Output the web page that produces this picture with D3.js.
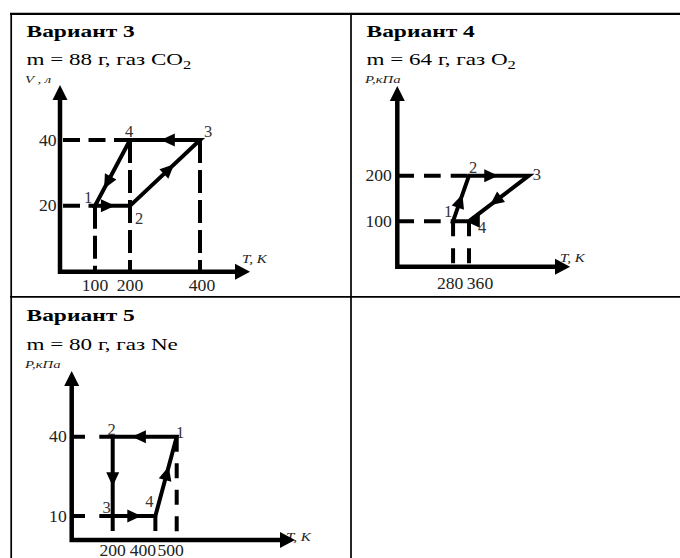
<!DOCTYPE html>
<html>
<head>
<meta charset="utf-8">
<script src="https://cdn.jsdelivr.net/npm/d3@7"></script>
<style>
  html, body { margin: 0; padding: 0; background: #fff; }
  svg { display: block; }
  text { font-family: "Liberation Serif", "Times New Roman", serif; }
</style>
</head>
<body>
<svg id="chart" width="680" height="558"></svg>
<script>
// ---- Variant headings ----
const variantTitles = ["Вариант 3", "Вариант 4", "Вариант 5"];
const massTexts = ["m = 88 г, газ ", "m = 64 г, газ ", "m = 80 г, газ "];
const gasFormulas = [["CO", "2"], ["O", "2"], ["Ne", ""]];
const yAxisNames = ["V , л", "P,кПа", "P,кПа"];
const xAxisName = "T, K";

// ---- Variant 3: V–T cycle of CO2 ----
const v3States = ["1", "2", "3", "4"];
const v3Temps = [100, 200, 400, 200];
const v3Volumes = [20, 20, 40, 40];
const v3TempTicks = [100, 200, 400];
const v3VolumeTicks = [20, 40];
const v3DropStates = [0, 3, 2];   // states with a dashed line down to the T axis
const v3SideStates = [3, 0];      // states with a dashed line across to the V axis

// ---- Variant 4: P–T cycle of O2 ----
const v4States = ["1", "2", "3", "4"];
const v4Temps = [280, 360, 660, 360];
const v4Pressures = [100, 200, 200, 100];
const v4TempTicks = [280, 360];
const v4PressureTicks = [100, 200];
const v4DropStates = [0, 3];
const v4SideStates = [1, 0];

// ---- Variant 5: P–T cycle of Ne ----
const v5States = ["1", "2", "3", "4"];
const v5Temps = [500, 200, 200, 400];
const v5Pressures = [40, 40, 10, 10];
const v5TempTicks = [200, 400, 500];
const v5PressureTicks = [10, 40];
const v5DropStates = [2, 3, 0];
const v5SideStates = [1, 2];

// ---- Drawing setup per panel ----
const panels = [
  {
    title: variantTitles[0], mass: massTexts[0], gas: gasFormulas[0], yName: yAxisNames[0],
    states: v3States, t: v3Temps, v: v3Volumes, tTicks: v3TempTicks, vTicks: v3VolumeTicks,
    drops: v3DropStates, sides: v3SideStates,
    L: {
      textX: 26.5, titleY: 36.5, massY: 65,
      yNamePos: [25, 83], xNamePos: [242, 263],
      origin: [60, 271.7], yTip: 85, xTip: 250,
      xDom: [0, 400], xRng: [60, 200], yDom: [0, 40], yRng: [271.7, 140],
      hDash: "17,8.5", hStart: 3, vDash: "23,7",
      arrowAt: [0.57, 0.63, 0.56, 0.74],
      labelOff: [[-7, -3], [9, 18], [8, -3.5], [-1, -3.5]],
      xTickDx: [0, 0, 2], xTickDy: 19.5, yTickDx: -3.5
    }
  },
  {
    title: variantTitles[1], mass: massTexts[1], gas: gasFormulas[1], yName: yAxisNames[1],
    states: v4States, t: v4Temps, v: v4Pressures, tTicks: v4TempTicks, vTicks: v4PressureTicks,
    drops: v4DropStates, sides: v4SideStates,
    L: {
      textX: 366.5, titleY: 36.5, massY: 65,
      yNamePos: [365, 83], xNamePos: [560, 262],
      origin: [397.3, 266.7], yTip: 86, xTip: 570,
      xDom: [0, 360], xRng: [397.3, 469], yDom: [0, 200], yRng: [266.7, 175.7],
      hDash: "16.7,10", hStart: 0, vDash: "15,12",
      arrowAt: [0.59, 0.49, 0.65, 0.2],
      labelOff: [[-5, -4], [4, -3], [8, 4], [13, 12]],
      xTickDx: [-3, 11], xTickDy: 22.5, yTickDx: -5.5
    }
  },
  {
    title: variantTitles[2], mass: massTexts[2], gas: gasFormulas[2], yName: yAxisNames[2],
    states: v5States, t: v5Temps, v: v5Pressures, tTicks: v5TempTicks, vTicks: v5PressureTicks,
    drops: v5DropStates, sides: v5SideStates,
    L: {
      textX: 26.5, titleY: 321, massY: 349.5,
      yNamePos: [25, 368], xNamePos: [286, 541],
      origin: [71.7, 540], yTip: 371, xTip: 295,
      xDom: [200, 500], xRng: [112.7, 176.7], yDom: [10, 40], yRng: [516, 436.7],
      hDash: "13.3,14.3", hStart: 0, vDash: "15,11.5",
      arrowAt: [0.7, 0.625, 0.67, 0.625],
      labelOff: [[3.5, 1.5], [-1, -2], [-6, -3.5], [-6, -9]],
      xTickDx: [0, -12.5, -6], xTickDy: 15.5, yTickDx: -5
    }
  }
];

const svg = d3.select("#chart");
svg.append("rect").attr("width", 680).attr("height", 558).attr("fill", "#fff");

// ---- Table grid ----
const grid = svg.append("g").attr("stroke", "#000").attr("fill", "none");
grid.append("line").attr("x1", 10).attr("x2", 680).attr("y1", 13.9).attr("y2", 13.9).attr("stroke-width", 2.3);
grid.append("line").attr("x1", 11.2).attr("x2", 11.2).attr("y1", 13).attr("y2", 558).attr("stroke-width", 1.7);
grid.append("line").attr("x1", 10).attr("x2", 680).attr("y1", 296.8).attr("y2", 296.8).attr("stroke-width", 1.7);
grid.append("line").attr("x1", 351).attr("x2", 351).attr("y1", 13).attr("y2", 558).attr("stroke-width", 1.7);

// Text with horizontal stretch
function label(g, x, y, str, opts) {
  const t = g.append("text")
    .attr("transform", `translate(${x},${y}) scale(${opts.sx || 1},1)`)
    .attr("text-anchor", opts.anchor || "start")
    .attr("font-size", opts.size)
    .attr("font-weight", opts.weight || "normal")
    .attr("font-style", opts.style || "normal")
    .attr("fill", opts.fill || "#000")
    .text(str);
  return t;
}

// Filled arrowhead with its tip at (x, y) pointing along (dx, dy)
function arrowHead(g, x, y, dx, dy, len, wid) {
  const n = Math.hypot(dx, dy), ux = dx / n, uy = dy / n;
  const bx = x - ux * len, by = y - uy * len;
  const px = -uy * wid / 2, py = ux * wid / 2;
  g.append("path")
    .attr("d", `M${x},${y}L${bx + px},${by + py}L${bx - px},${by - py}Z`)
    .attr("fill", "#000");
}

panels.forEach(p => {
  const L = p.L;
  const g = svg.append("g");
  const x = d3.scaleLinear().domain(L.xDom).range(L.xRng);
  const y = d3.scaleLinear().domain(L.yDom).range(L.yRng);
  const [ox, oy] = L.origin;

  // Heading
  label(g, L.textX, L.titleY, p.title, { size: 17.5, weight: "bold", sx: 1.34 });
  const m = label(g, L.textX, L.massY, p.mass, { size: 17.5, sx: 1.32 });
  m.append("tspan").text(p.gas[0]);
  if (p.gas[1]) m.append("tspan").attr("dy", 3.5).attr("font-size", 12.5).text(p.gas[1]);

  // Axis names
  label(g, L.yNamePos[0], L.yNamePos[1], p.yName, { size: 10.5, style: "italic", sx: 1.4, fill: "#222" });
  label(g, L.xNamePos[0], L.xNamePos[1], xAxisName, { size: 12, style: "italic", sx: 1.25, fill: "#222" });

  // Dashed guides
  const guides = g.append("g").attr("stroke", "#000").attr("stroke-width", 4).attr("fill", "none");
  p.sides.forEach(i => {
    guides.append("line")
      .attr("x1", ox + L.hStart).attr("x2", x(p.t[i]))
      .attr("y1", y(p.v[i])).attr("y2", y(p.v[i]))
      .attr("stroke-dasharray", L.hDash);
  });
  p.drops.forEach(i => {
    guides.append("line")
      .attr("x1", x(p.t[i])).attr("x2", x(p.t[i]))
      .attr("y1", y(p.v[i])).attr("y2", oy)
      .attr("stroke-dasharray", L.vDash);
  });

  // Axes with arrows
  const axes = g.append("g").attr("stroke", "#000").attr("stroke-width", 4.5).attr("fill", "none");
  axes.append("path")
    .attr("d", `M${ox},${L.yTip + 10}L${ox},${oy}L${L.xTip - 10},${oy}`)
    .attr("stroke-linejoin", "miter");
  arrowHead(g, ox, L.yTip, 0, -1, 15, 15);
  arrowHead(g, L.xTip, oy, 1, 0, 15, 16);

  // Tick labels
  p.tTicks.forEach((t, k) => {
    label(g, x(t) + L.xTickDx[k], oy + L.xTickDy, String(t), { size: 16, anchor: "middle", sx: 1.1, fill: "#222" });
  });
  p.vTicks.forEach(v => {
    label(g, ox + L.yTickDx, y(v) + 5.5, String(v), { size: 16, anchor: "end", sx: 1.1, fill: "#222" });
  });

  // Cycle
  const pts = p.t.map((t, i) => [x(t), y(p.v[i])]);
  const cyc = g.append("g");
  cyc.append("path")
    .attr("d", d3.line()(pts) + "Z")
    .attr("fill", "none").attr("stroke", "#000").attr("stroke-width", 4)
    .attr("stroke-linejoin", "miter");
  pts.forEach((a, i) => {
    const b = pts[(i + 1) % pts.length];
    const f = L.arrowAt[i];
    arrowHead(cyc, a[0] + f * (b[0] - a[0]), a[1] + f * (b[1] - a[1]), b[0] - a[0], b[1] - a[1], 14, 13);
  });

  // State numbers
  pts.forEach((pt, i) => {
    label(g, pt[0] + L.labelOff[i][0], pt[1] + L.labelOff[i][1], p.states[i], { size: 16.5, anchor: "middle", sx: 1.0, fill: "#333" });
  });
});
</script>
</body>
</html>
